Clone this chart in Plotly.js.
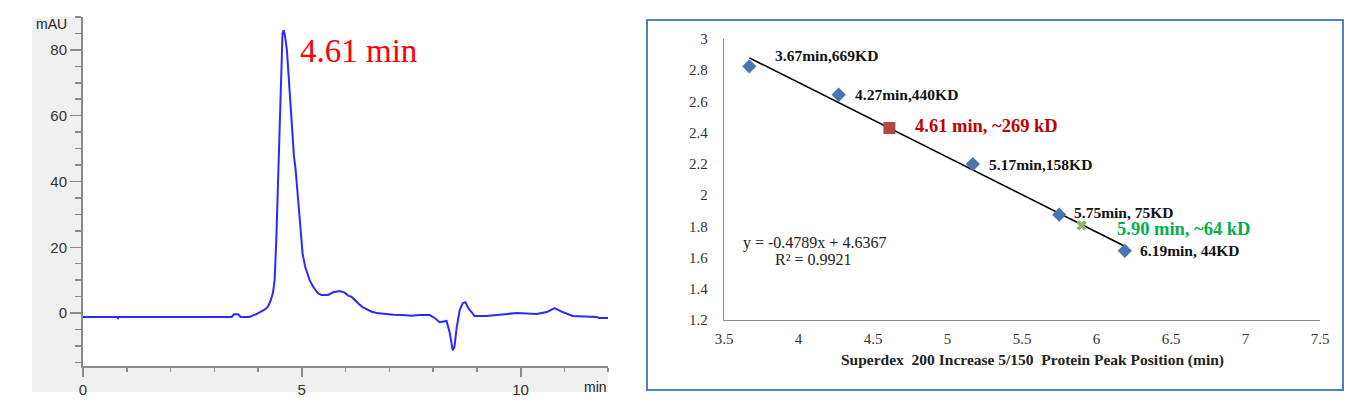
<!DOCTYPE html>
<html>
<head>
<meta charset="utf-8">
<script src="https://cdn.plot.ly/plotly-3.0.1.min.js"></script>
<style>
html,body{margin:0;padding:0;background:#fff;}
#chart{width:1361px;height:419px;}
</style>
</head>
<body>
<div id="chart"></div>
<script>
// ---- Left panel: chromatogram (time in min, absorbance in mAU)
const chromTime = [0, 0.78, 0.8, 0.82, 2.0, 3.4, 3.45, 3.55, 3.6, 3.8, 3.95, 4.05, 4.15, 4.22, 4.28, 4.34, 4.38, 4.42, 4.45, 4.48, 4.5, 4.53, 4.56, 4.59, 4.62, 4.66, 4.7, 4.74, 4.78, 4.82, 4.86, 4.93, 4.98, 5.02, 5.08, 5.18, 5.26, 5.37, 5.45, 5.6, 5.72, 5.87, 5.98, 6.06, 6.14, 6.2, 6.3, 6.39, 6.5, 6.6, 6.71, 6.9, 7.1, 7.3, 7.5, 7.7, 7.92, 8.04, 8.15, 8.31, 8.38, 8.45, 8.49, 8.54, 8.61, 8.68, 8.74, 8.81, 8.95, 9.22, 9.59, 9.91, 10.37, 10.6, 10.78, 10.96, 11.19, 11.5, 11.74, 11.8, 12.0];
const chromAbs  = [-1.2, -1.2, -1.6, -1.2, -1.2, -1.2, -0.4, -0.4, -1.2, -1.2, -0.4, 0.3, 1.0, 1.8, 3.5, 6, 10, 23, 37, 50, 55, 75, 85, 86, 84, 80, 72, 64, 55, 48, 43.5, 31, 24, 18, 14, 10, 8, 6, 5.5, 5.5, 6.3, 6.7, 6.2, 5.3, 4.9, 4, 2.8, 1.8, 1.0, 0.4, 0, -0.3, -0.5, -0.6, -0.8, -0.6, -0.6, -1.5, -2.8, -2.4, -5.8, -11.3, -10.3, -4.6, 0.9, 3.0, 3.3, 1.5, -0.9, -0.9, -0.3, 0, -0.3, 0.3, 1.5, 0.3, -0.9, -1.0, -1.2, -1.5, -1.5];
const chromXTicks = [0, 5, 10];
const chromYTicks = [0, 20, 40, 60, 80];
const peakLabel = '4.61 min';

// ---- Right panel: calibration (peak position vs log10 MW)
const stdTimes  = [3.67, 4.27, 5.17, 5.75, 6.19];
const stdLogMW  = [2.825, 2.643, 2.199, 1.875, 1.643];
const stdLabels = ['3.67min,669KD', '4.27min,440KD', '5.17min,158KD', '5.75min, 75KD', '6.19min, 44KD'];
const sampleTimes  = [4.61, 5.90];
const sampleLogMW  = [2.43, 1.806];
const sampleLabels = ['4.61 min, ~269 kD', '5.90 min, ~64 kD'];
const trendSlope = -0.4789;
const trendIntercept = 4.6367;
const eqText = 'y = -0.4789x + 4.6367';
const r2Text = 'R² = 0.9921';
const xTitle = 'Superdex  200 Increase 5/150  Protein Peak Position (min)';

const W = 1361, H = 419;
const px = v => v / W;
const py = v => 1 - v / H;

const trendX = [Math.min(...stdTimes), Math.max(...stdTimes)];
const trendY = trendX.map(x => trendSlope * x + trendIntercept);

const traces = [
  {x: chromTime, y: chromAbs, xaxis: 'x', yaxis: 'y', type: 'scatter', mode: 'lines',
   line: {color: '#2b2bff', width: 2}, hoverinfo: 'skip'},
  {x: trendX, y: trendY, xaxis: 'x2', yaxis: 'y2', type: 'scatter', mode: 'lines',
   line: {color: '#000', width: 1.6}},
  {x: stdTimes, y: stdLogMW, xaxis: 'x2', yaxis: 'y2', type: 'scatter', mode: 'markers',
   marker: {symbol: 'diamond', size: 11, color: '#4a76b0'}},
  {x: [sampleTimes[0]], y: [sampleLogMW[0]], xaxis: 'x2', yaxis: 'y2', type: 'scatter', mode: 'markers',
   marker: {symbol: 'square', size: 12, color: '#b04848'}},
  {x: [sampleTimes[1]], y: [sampleLogMW[1]], xaxis: 'x2', yaxis: 'y2', type: 'scatter', mode: 'markers',
   marker: {symbol: 'x', size: 9, color: '#8db360', line: {width: 0}}}
];

const labelShifts = [[24, 11], [14, 0], [14, 0], [13, 2], [13, 0]];
const annotations = [];
stdTimes.forEach((t, i) => {
  annotations.push({x: t, y: stdLogMW[i], xref: 'x2', yref: 'y2', text: '<b>' + stdLabels[i] + '</b>',
    showarrow: false, xanchor: 'left', yanchor: 'middle', xshift: labelShifts[i][0], yshift: labelShifts[i][1],
    font: {family: 'Liberation Serif', size: 15.5, color: '#111'}});
});
annotations.push({x: sampleTimes[0], y: sampleLogMW[0], xref: 'x2', yref: 'y2', text: '<b>' + sampleLabels[0] + '</b>',
  showarrow: false, xanchor: 'left', yanchor: 'middle', xshift: 24, yshift: 2,
  font: {family: 'Liberation Serif', size: 18.5, color: '#c00000'}});
annotations.push({x: sampleTimes[1], y: sampleLogMW[1], xref: 'x2', yref: 'y2', text: '<b>' + sampleLabels[1] + '</b>',
  showarrow: false, xanchor: 'left', yanchor: 'middle', xshift: 33, yshift: -4,
  font: {family: 'Liberation Serif', size: 18.5, color: '#00b050'}});
annotations.push({x: px(814), y: py(243), xref: 'paper', yref: 'paper', text: eqText, showarrow: false,
  xanchor: 'center', yanchor: 'middle', font: {family: 'Liberation Serif', size: 16, color: '#222'}});
annotations.push({x: px(813), y: py(259), xref: 'paper', yref: 'paper', text: r2Text, showarrow: false,
  xanchor: 'center', yanchor: 'middle', font: {family: 'Liberation Serif', size: 16, color: '#222'}});
annotations.push({x: px(1032), y: py(360), xref: 'paper', yref: 'paper', text: '<b>' + xTitle + '</b>', showarrow: false,
  xanchor: 'center', yanchor: 'middle', font: {family: 'Liberation Serif', size: 15.5, color: '#222'}});
// left panel texts
annotations.push({x: px(298), y: py(51), xref: 'paper', yref: 'paper', text: peakLabel, showarrow: false,
  xanchor: 'left', yanchor: 'middle', font: {family: 'Liberation Serif', size: 33, color: '#ff0000'}});
annotations.push({x: px(51), y: py(24), xref: 'paper', yref: 'paper', text: 'mAU', showarrow: false,
  xanchor: 'center', yanchor: 'middle', font: {family: 'Liberation Sans', size: 14, color: '#222'}});
annotations.push({x: px(609), y: py(387), xref: 'paper', yref: 'paper', text: 'min', showarrow: false,
  xanchor: 'right', yanchor: 'middle', font: {family: 'Liberation Sans', size: 14, color: '#222'}});

const shapes = [
  {type: 'rect', xref: 'paper', yref: 'paper', x0: px(32), x1: px(83), y0: py(392), y1: py(17),
   fillcolor: '#f0f0f0', line: {width: 0}, layer: 'below'},
  {type: 'rect', xref: 'paper', yref: 'paper', x0: px(83), x1: px(608), y0: py(392), y1: py(366),
   fillcolor: '#f0f0f0', line: {width: 0}, layer: 'below'},
  {type: 'rect', xref: 'paper', yref: 'paper', x0: px(647), x1: px(1343), y0: py(390), y1: py(20),
   fillcolor: 'rgba(0,0,0,0)', line: {color: '#4f81bd', width: 2}, layer: 'below'}
];

const layout = {
  width: W, height: H,
  margin: {l: 0, r: 0, t: 0, b: 0},
  paper_bgcolor: '#ffffff', plot_bgcolor: 'rgba(0,0,0,0)',
  showlegend: false,
  xaxis: {domain: [px(83), px(608)], range: [0, 12], anchor: 'y', showgrid: false, zeroline: false,
    showline: true, linecolor: '#8a8a8a', linewidth: 2, ticks: 'outside', ticklen: 9, tickwidth: 2, tickcolor: '#8a8a8a',
    tickmode: 'array', tickvals: chromXTicks,
    minor: {ticks: 'outside', dtick: 1, tick0: 0, ticklen: 4, tickwidth: 1.5, tickcolor: '#8a8a8a', showgrid: false},
    tickfont: {family: 'Liberation Sans', size: 15, color: '#333'}},
  yaxis: {domain: [py(366), py(17)], range: [-16.1, 90], anchor: 'x', showgrid: false, zeroline: false,
    showline: true, linecolor: '#8a8a8a', linewidth: 2, ticks: 'outside', ticklen: 11, tickwidth: 1.5, tickcolor: '#8a8a8a',
    tickmode: 'array', tickvals: chromYTicks,
    minor: {ticks: 'outside', dtick: 5, tick0: 0, ticklen: 6, tickwidth: 1.5, tickcolor: '#8a8a8a', showgrid: false},
    tickfont: {family: 'Liberation Sans', size: 15, color: '#333'}},
  xaxis2: {domain: [px(724), px(1320)], range: [3.5, 7.5], anchor: 'y2', showgrid: false, zeroline: false,
    showline: true, linecolor: '#8c8c8c', linewidth: 1.2, ticks: '', dtick: 0.5, tick0: 3.5,
    ticklabelstandoff: 5,
    tickfont: {family: 'Liberation Serif', size: 15, color: '#333'}},
  yaxis2: {domain: [py(320), py(39)], range: [1.2, 3], anchor: 'x2', showgrid: false, zeroline: false,
    showline: true, linecolor: '#8c8c8c', linewidth: 1.2, ticks: '', dtick: 0.2, tick0: 1.2,
    ticklabelstandoff: 12,
    tickfont: {family: 'Liberation Serif', size: 15, color: '#333'}},
  annotations: annotations,
  shapes: shapes
};

Plotly.newPlot('chart', traces, layout, {staticPlot: true, displayModeBar: false});
</script>
</body>
</html>
